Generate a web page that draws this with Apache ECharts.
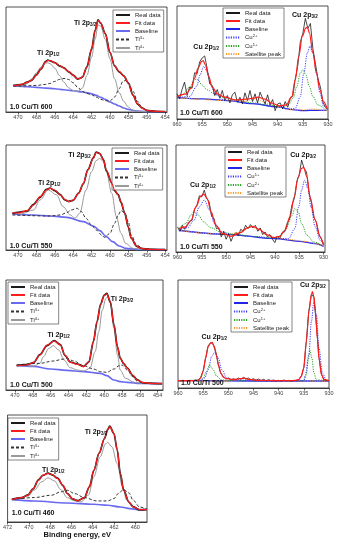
<!DOCTYPE html>
<html><head><meta charset="utf-8">
<script src="https://cdn.jsdelivr.net/npm/echarts@6.0.0/dist/echarts.min.js"></script>
<style>html,body{margin:0;padding:0;background:#fff}#c{width:338px;height:550px}</style>
</head><body><div id="c"></div>
<script>
// ===== DATA (binding energy eV, intensity in arbitrary units) =====
const tiTicks = [454, 456, 458, 460, 462, 464, 466, 468, 470];
const ti460Ticks = [460, 462, 464, 466, 468, 470, 472];
const cuTicks = [930, 935, 940, 945, 950, 955, 960];
const cuEnergy = [960,959.5,959,958.5,958,957.5,957,956.5,956,955.5,955,954.5,954,953.5,953,952.5,952,951.5,951,950.5,950,949.5,949,948.5,948,947.5,947,946.5,946,945.5,945,944.5,944,943.5,943,942.5,942,941.5,941,940.5,940,939.5,939,938.5,938,937.5,937,936.5,936,935.5,935,934.5,934,933.5,933,932.5,932,931.5,931,930.5,930];

// --- 1.0 Cu/Ti 600, Ti 2p ---
const ti600_real = [[470.5,80],[470,82],[469.5,83],[469,90],[468.5,95],[468,112],[467.5,129],[467,152],[466.75,156],[466.5,154],[466,149],[465.5,139],[465,133],[464.5,121],[464,111],[463.5,99],[463.2,102],[463,105],[462.5,136],[462,189],[461.6,247],[461.3,277],[461,267],[460.5,236],[460,179],[459.5,139],[459,121],[458.5,109],[458,87],[457.5,51],[457,24],[456.5,12],[456,5],[455,2],[454,1]];
const ti600_fit = [[470.5,79],[470,81],[469.5,84],[469,89],[468.5,96],[468,110],[467.5,130],[467,150],[466.75,155],[466.5,155],[466,148],[465.5,140],[465,132],[464.5,122],[464,110],[463.5,100],[463.2,101],[463,106],[462.5,135],[462,190],[461.6,245],[461.3,275],[461,268],[460.5,235],[460,180],[459.5,138],[459,122],[458.5,108],[458,88],[457.5,50],[457,25],[456.5,11],[456,5],[455,2],[454,1]];
const ti600_base = [[470.5,78],[470,78],[469,76],[468,74],[467,72],[466,70],[465,67],[464,64],[463,60],[462,55],[461.5,50],[461,44],[460.5,38],[460,30],[459.5,24],[459,18],[458.5,12],[458,8],[457.5,5],[457,3],[456,1],[454,0]];
const ti600_ti3 = [[470.5,78],[470,78],[469,79],[468,80],[467,83],[466.5,86],[466,92],[465.5,98],[465,101],[464.5,98],[464,88],[463.5,74],[463,62],[462.5,56],[462,52],[461.5,45],[461,38],[460.5,34],[460,33],[459.5,45],[459,70],[458.6,92],[458.3,95],[458,88],[457.5,62],[457,32],[456.5,12],[456,4],[455,1],[454,1]];
const ti600_ti4 = [[470,78],[469.5,78],[469,85],[468.5,100],[468,118],[467.5,135],[467,147],[466.75,148],[466.5,145],[466,132],[465.5,110],[465,90],[464.5,73],[464,65],[463.5,62],[463,72],[462.5,110],[462,165],[461.6,220],[461.3,262],[461,258],[460.5,218],[460,160],[459.5,100],[459,58],[458.5,32],[458,15],[457.5,5],[457,2],[456,1],[454,1]];

// --- 1.0 Cu/Ti 600, Cu 2p ---
const cu600_real = [75,60,88,110,70,95,92,138,135,170,182,188,150,105,100,70,88,62,85,55,70,48,72,80,50,65,45,78,55,85,52,75,48,80,62,45,72,42,58,25,45,48,30,52,35,62,68,120,160,230,255,300,270,285,210,165,120,95,50,35,28];
const cu600_fit = [[960,67],[958.2,75],[957.2,92],[956.5,122],[955.8,152],[955.1,172],[954.8,174],[954.4,162],[953.7,127],[953,95],[951.9,74],[950.5,65],[948.4,57],[946.3,59],[944.9,62],[943.9,65],[942.5,59],[941.1,47],[939.7,39],[938.3,42],[937.2,67],[936.5,117],[935.8,187],[935.1,247],[934.4,272],[934.1,273],[933.7,257],[933,197],[932.3,137],[931.6,87],[930.9,52],[930.2,32]];
const cu600_base = [[960,64],[955,60],[950,55],[945,46],[940,36],[937,28],[935,25],[932,26],[930.2,26]];
const cu600_cu2 = [[960,64],[957.5,67],[956.1,97],[955.4,132],[954.7,157],[954,142],[953.3,102],[952.3,72],[950.5,56],[945,46],[940,36],[937.5,30],[936.5,32],[935.5,67],[934.8,137],[934.1,197],[933.6,217],[933,197],[932.3,137],[931.6,77],[930.9,39],[930.2,27]];
const cu600_cu1 = [[960,64],[959,72],[957.5,95],[956.5,117],[956.1,119],[955.8,117],[955.1,102],[954,87],[952.6,75],[950.5,64],[948,56],[945,48],[942,42],[939,36],[937.9,42],[936.9,62],[936.2,97],[935.5,137],[935,147],[934.4,132],[933.7,97],[933,67],[932,42],[930.6,29]];
const cu600_sat = [[960,64],[950,55],[947,52],[944.5,60],[942,47],[940,37],[938,28],[935,27],[933,30],[931,26],[930.2,25]];

// --- 1.0 Cu/Ti 550, Ti 2p ---
const ti550_real = [[470.6,110],[470,113],[469,117],[468.3,137],[467.6,158],[466.9,182],[466.5,186],[466,178],[465.4,166],[464.9,150],[464.5,146],[464,149],[463.4,171],[462.9,198],[462.4,241],[461.8,277],[461.5,294],[461.1,289],[460.7,271],[460.4,238],[459.8,201],[459.5,178],[459.1,166],[458.8,143],[458.4,111],[458,68],[457.7,36],[457.1,11],[456.6,5],[455.7,2],[454,1]];
const ti550_fit = [[470.6,112],[470,111],[469,118],[468.3,135],[467.6,160],[466.9,180],[466.5,185],[466,180],[465.4,165],[464.9,152],[464.5,145],[464,150],[463.4,170],[462.9,200],[462.4,240],[461.8,275],[461.5,292],[461.1,290],[460.7,270],[460.4,240],[459.8,200],[459.5,180],[459.1,165],[458.8,145],[458.4,110],[458,70],[457.7,35],[457.1,12],[456.6,5],[455.7,2],[454,1]];
const ti550_base = [[470.6,108],[468.3,105],[466.5,102],[464.7,98],[462.9,85],[461.8,72],[461.1,58],[460.4,40],[459.7,25],[459,12],[458.3,5],[456.9,2],[454,1]];
const ti550_ti3 = [[470.6,105],[466.5,102],[465.4,105],[464.7,112],[464.2,120],[463.6,125],[463.1,115],[462.6,95],[462,75],[461.5,60],[460.9,45],[460.6,38],[460,50],[459.5,80],[459.1,105],[458.8,118],[458.4,112],[458,85],[457.7,45],[457.1,15],[456.4,4],[455,1],[454,1]];
const ti550_ti4 = [[470,108],[469.7,108],[468.3,120],[467.6,150],[466.7,180],[465.8,165],[465.1,130],[464.3,105],[463.8,95],[463.3,110],[462.6,180],[462,235],[461.5,268],[461.1,275],[460.7,265],[460.4,235],[459.8,170],[459.3,100],[458.8,50],[458.3,20],[457.5,5],[456.4,1],[454,1]];

// --- 1.0 Cu/Ti 550, Cu 2p ---
const cu550_real = [75,62,80,68,82,92,95,128,140,168,165,185,160,150,108,100,70,72,45,62,38,55,32,50,58,48,68,62,80,70,82,72,80,62,72,52,60,45,52,38,28,48,40,58,60,85,98,140,160,210,230,275,250,240,180,148,105,90,55,40,25];
const cu550_fit = [[959.7,70],[958.3,75],[957.2,95],[956.2,135],[955.2,167],[954.6,173],[953.9,160],[953.1,120],[952.1,80],[950.7,55],[949,47],[947.2,57],[945.5,73],[944.5,77],[943.1,67],[941.7,52],[940.3,43],[939,47],[937.9,65],[936.9,105],[936,165],[935.2,225],[934.5,250],[934.1,253],[933.4,225],[932.8,165],[931.7,95],[930.7,45],[930,20]];
const cu550_base = [[959.7,65],[950,53],[940,40],[935,32],[931.7,25],[930,17]];
const cu550_cu1 = [[959.7,65],[957.9,73],[956.6,95],[955.5,135],[954.5,155],[953.4,125],[952.4,85],[951,60],[949.5,53],[945,47],[940,40],[937.2,40],[935.9,70],[935.1,135],[934.5,185],[933.9,215],[933.2,190],[932.6,135],[931.7,75],[930.7,35],[930,20]];
const cu550_cu2 = [[959.7,70],[958.3,85],[957.2,110],[956.6,120],[955.7,110],[954.6,90],[953.2,73],[951.1,60],[948,52],[944,46],[940.9,43],[939.3,45],[937.9,65],[936.4,110],[935.9,130],[935.2,120],[934.5,85],[933.4,50],[932,30],[930.3,20]];
const cu550_sat = [[959.7,65],[952,54],[949.5,53],[947.5,58],[946,70],[945,75],[943.5,70],[941.5,52],[939.5,42],[937,37],[934,32],[931.5,25],[930,18]];

// --- 1.0 Cu/Ti 500, Ti 2p ---
const ti500_real = [[469.8,74],[468.7,76],[467.9,82],[467.2,106],[466.4,133],[465.6,148],[464.9,136],[464.4,104],[463.8,84],[463,78],[462.3,71],[461.7,84],[461.2,146],[460.8,204],[460.4,257],[460,284],[459.7,290],[459.3,264],[458.9,196],[458.5,129],[458.2,96],[457.8,79],[457.4,66],[456.8,44],[456.3,31],[455.7,22],[454.8,20],[453.5,19]];
const ti500_fit = [[469.8,73],[468.7,75],[467.9,83],[467.2,105],[466.4,135],[465.6,147],[464.9,135],[464.4,105],[463.8,83],[463,77],[462.3,70],[461.7,85],[461.2,145],[460.8,205],[460.4,255],[460,283],[459.7,288],[459.3,265],[458.9,195],[458.5,130],[458.2,95],[457.8,80],[457.4,65],[456.8,45],[456.3,30],[455.7,23],[454.8,20],[453.5,19]];
const ti500_base = [[469.8,73],[467.9,71],[466,63],[464.2,59],[462.3,55],[460.4,50],[459.7,43],[458.9,30],[458.2,25],[457.4,23],[455.9,20],[453.5,19]];
const ti500_ti3 = [[469.8,75],[467.2,80],[465.7,87],[464.5,93],[464.2,95],[463.4,87],[462.3,73],[461.2,63],[460.4,55],[459.7,53],[458.9,63],[458.3,73],[458,75],[457.4,60],[456.8,40],[456.3,27],[455.5,21],[453.5,19]];
const ti500_ti4 = [[469.8,73],[467.9,72],[467.2,80],[466.8,100],[466.2,125],[465.7,133],[465.1,120],[464.5,90],[463.8,67],[463,60],[462.3,57],[461.6,65],[461,115],[460.6,175],[460.2,240],[459.8,275],[459.6,280],[459.3,260],[458.9,185],[458.5,105],[458.2,60],[457.6,35],[456.6,23],[455.5,20],[453.5,19]];

// --- 1.0 Cu/Ti 500, Cu 2p ---
const cu500_real = [22,21,23,22,21,23,22,24,23,32,52,92,127,137,131,108,72,44,34,27,30,24,28,25,30,27,32,27,30,25,28,23,27,22,26,21,25,22,24,21,23,21,24,22,23,21,23,22,26,36,62,142,232,282,273,188,92,42,26,23,22];
const cu500_fit = [[960,22],[958,22],[956,23],[955.5,30],[955,50],[954.5,90],[954,125],[953.5,135],[953.2,137],[952.8,125],[952.3,95],[952,70],[951.5,45],[951,33],[950.3,28],[949,25],[947.5,28],[946.8,30],[946,26],[944,23],[940,22],[937,22],[936,25],[935.5,35],[935,60],[934.5,140],[934,230],[933.5,280],[933.3,290],[933,275],[932.7,230],[932.3,150],[932,90],[931.5,40],[931,25],[930,22]];
const cu500_base = [[960,22],[945,21],[930,21]];
const cu500_cu2 = [[960,22],[955.5,23],[954.7,30],[954,55],[953.3,95],[952.7,108],[952,90],[951.3,55],[950.3,30],[949,24],[935,22],[934.7,40],[934,100],[933.5,200],[933,260],[932.5,220],[932,120],[931.3,45],[930.5,22],[930,22]];
const cu500_cu1 = [[960,22],[955.5,23],[955,30],[954.3,50],[953.8,70],[953.1,57],[952.3,35],[951.3,24],[950,22],[935,22],[934.5,40],[934.1,85],[933.8,115],[933.4,90],[933,45],[932.5,24],[930,22]];
const cu500_sat = [[960,21],[950,21],[948,25],[947,29],[946,26],[944,23],[935,21],[930,21]];

// --- 1.0 Cu/Ti 460, Ti 2p ---
const ti460_real = [[471.6,68],[470.7,72],[470.1,81],[469.6,99],[469.1,126],[468.7,139],[468.2,146],[467.8,141],[467.3,131],[466.8,109],[466.4,86],[465.9,69],[465.4,64],[464.8,72],[464.3,106],[463.9,154],[463.4,206],[462.9,249],[462.6,276],[462.4,287],[462,264],[461.7,216],[461.4,144],[461.1,96],[460.6,59],[460.2,46],[459.6,36],[458.9,38]];
const ti460_fit = [[471.6,67],[470.7,73],[470.1,80],[469.6,100],[469.1,125],[468.7,140],[468.2,145],[467.8,142],[467.3,130],[466.8,110],[466.4,85],[465.9,70],[465.4,63],[464.8,73],[464.3,105],[463.9,155],[463.4,205],[462.9,250],[462.6,275],[462.4,285],[462,265],[461.7,215],[461.4,145],[461.1,95],[460.6,60],[460.2,45],[459.6,37],[458.9,37]];
const ti460_base = [[471.6,67],[469.5,63],[466.4,57],[463.9,53],[462.6,50],[461.4,45],[460.5,40],[459.6,37],[458.9,37]];
const ti460_ti3 = [[471.6,67],[469.5,73],[467.9,80],[467,90],[466.4,95],[465.7,85],[464.8,73],[463.6,63],[462.6,63],[462,70],[461.6,85],[461.1,97],[460.6,87],[460.2,65],[459.6,45],[458.9,37]];
const ti460_ti4 = [[471.6,67],[470.1,77],[469.5,95],[468.8,120],[468.2,132],[467.6,123],[467,97],[466.4,73],[465.7,63],[465.1,60],[464.4,80],[463.9,135],[463.3,195],[462.8,233],[462.6,238],[462.2,225],[461.7,175],[461.2,105],[460.8,65],[460.2,45],[459.6,38],[458.9,37]];

// ===== STYLES =====
const FONT = 'Liberation Sans';
const ST = {
  real_ti: {color:'#1a1a1a', width:1.7, smooth:0.3, z:3},
  real_cu: {color:'#1a1a1a', width:0.8, smooth:false, z:3},
  fit:     {color:'#ff1e1e', width:1.2, smooth:0.35, z:4},
  base_ti: {color:'#6a6af0', width:1.6, smooth:0.35, z:2},
  base_cu: {color:'#2424e6', width:1.3, smooth:0.35, z:2},
  ti3:     {color:'#333333', width:1.0, smooth:0.35, type:[3,2], z:2},
  ti4:     {color:'#9a9a9a', width:1.0, smooth:0.35, z:2},
  cublue:  {color:'#4040ff', width:1.0, smooth:0.35, type:[1.2,1.2], z:2},
  cugreen: {color:'#2aa52a', width:1.0, smooth:0.35, type:[1.2,1.2], z:2},
  sat:     {color:'#ff9a2e', width:1.0, smooth:0.35, type:[1.2,1.2], z:2}
};

function pairs(xs, ys){ return ys.map((v,i)=>[xs[i], v]); }

const panels = [
  {grid:{left:6, top:7, width:161, height:105}, x:[453.8,471.3], ticks:tiTicks, yMax:316,
   legend:{left:113, top:10},
   lines:[['Baseline',ti600_base,'base_ti'],['Ti4+',ti600_ti4,'ti4'],['Ti3+',ti600_ti3,'ti3'],['Real data',ti600_real,'real_ti'],['Fit data',ti600_fit,'fit']],
   order:['Real data','Fit data','Baseline','Ti3+','Ti4+'],
   ann:[[462.7,268,'Ti 2p','3/2'],[466.7,178,'Ti 2p','1/2'],[470.9,15,'1.0 Cu/Ti 600',null,'left']]},
  {grid:{left:177, top:6, width:151, height:113}, x:[930,960], ticks:cuTicks, yMax:337,
   legend:{left:223, top:8},
   lines:[['Baseline',cu600_base,'base_cu'],['Satellite peak',cu600_sat,'sat'],['Cu1+',cu600_cu1,'cugreen'],['Cu2+',cu600_cu2,'cublue'],['Real data',pairs(cuEnergy,cu600_real),'real_cu'],['Fit data',cu600_fit,'fit']],
   order:['Real data','Fit data','Baseline','Cu2+','Cu1+','Satellite peak'],
   ann:[[934.6,310,'Cu 2p','3/2'],[954.2,215,'Cu 2p','1/2'],[959.4,18,'1.0 Cu/Ti 600',null,'left']]},
  {grid:{left:6, top:145, width:161, height:105}, x:[453.8,471.3], ticks:tiTicks, yMax:315,
   legend:{left:112, top:148},
   lines:[['Baseline',ti550_base,'base_ti'],['Ti4+',ti550_ti4,'ti4'],['Ti3+',ti550_ti3,'ti3'],['Real data',ti550_real,'real_ti'],['Fit data',ti550_fit,'fit']],
   order:['Real data','Fit data','Baseline','Ti3+','Ti4+'],
   ann:[[463.3,285,'Ti 2p','3/2'],[466.6,201,'Ti 2p','1/2'],[470.9,12,'1.0 Cu/Ti 550',null,'left']]},
  {grid:{left:176, top:145, width:149, height:107}, x:[929.7,960.3], ticks:cuTicks, yMax:320,
   legend:{left:225, top:147},
   lines:[['Baseline',cu550_base,'base_cu'],['Satellite peak',cu550_sat,'sat'],['Cu2+',cu550_cu2,'cugreen'],['Cu1+',cu550_cu1,'cublue'],['Real data',pairs(cuEnergy,cu550_real),'real_cu'],['Fit data',cu550_fit,'fit']],
   order:['Real data','Fit data','Baseline','Cu1+','Cu2+','Satellite peak'],
   ann:[[934.2,290,'Cu 2p','3/2'],[954.8,200,'Cu 2p','1/2'],[959.5,15,'1.0 Cu/Ti 550',null,'left']]},
  {grid:{left:6, top:280, width:157, height:110}, x:[453.4,471], ticks:tiTicks, yMax:330,
   legend:{left:8, top:282},
   lines:[['Baseline',ti500_base,'base_ti'],['Ti4+',ti500_ti4,'ti4'],['Ti3+',ti500_ti3,'ti3'],['Real data',ti500_real,'real_ti'],['Fit data',ti500_fit,'fit']],
   order:['Real data','Fit data','Baseline','Ti3+','Ti4+'],
   ann:[[458.0,273,'Ti 2p','3/2'],[465.1,165,'Ti 2p','1/2'],[470.55,15,'1.0 Cu/Ti 500',null,'left']]},
  {grid:{left:178, top:280, width:151, height:108}, x:[930,960], ticks:cuTicks, yMax:325,
   legend:{left:231, top:282},
   lines:[['Baseline',cu500_base,'base_cu'],['Satellite peak',cu500_sat,'sat'],['Cu1+',cu500_cu1,'cugreen'],['Cu2+',cu500_cu2,'cublue'],['Real data',pairs(cuEnergy,cu500_real),'real_cu'],['Fit data',cu500_fit,'fit']],
   order:['Real data','Fit data','Baseline','Cu2+','Cu1+','Satellite peak'],
   ann:[[933.2,310,'Cu 2p','3/2'],[952.8,154,'Cu 2p','1/2'],[959.4,14,'1.0 Cu/Ti 500',null,'left']]},
  {grid:{left:6, top:415, width:141, height:107}, x:[458.9,472], ticks:ti460Ticks, yMax:320,
   legend:{left:8, top:418}, xName:'Binding energy, eV',
   lines:[['Baseline',ti460_base,'base_ti'],['Ti4+',ti460_ti4,'ti4'],['Ti3+',ti460_ti3,'ti3'],['Real data',ti460_real,'real_ti'],['Fit data',ti460_fit,'fit']],
   order:['Real data','Fit data','Baseline','Ti3+','Ti4+'],
   ann:[[463.7,269,'Ti 2p','3/2'],[467.7,155,'Ti 2p','1/2'],[471.6,27,'1.0 Cu/Ti 460',null,'left']]}
];

function legendRich(name){
  const n = name.split('@')[0];
  const m = n.match(/^(Ti|Cu)(\d\+)$/);
  if (m) return '{t|' + m[1] + '}{s|' + m[2] + '}';
  return '{t|' + n + '}';
}

const grids = [], xAxes = [], yAxes = [], series = [], legends = [];
panels.forEach((p, gi) => {
  grids.push(Object.assign({show:true, borderColor:'#222', borderWidth:0.8, backgroundColor:'transparent'}, p.grid));
  xAxes.push({
    type:'value', gridIndex:gi, min:p.x[0], max:p.x[1], inverse:true,
    axisLine:{show:true, onZero:false, lineStyle:{color:'#222', width:0.8}},
    axisTick:{show:true, inside:false, length:2.5, customValues:p.ticks, lineStyle:{color:'#222', width:0.7}},
    axisLabel:{show:true, customValues:p.ticks, fontSize:5.5, margin:2.5, color:'#444', fontFamily:FONT},
    splitLine:{show:false},
    name: p.xName || '', nameLocation:'middle', nameGap:9,
    nameTextStyle:{fontSize:7.5, fontWeight:'bold', fontFamily:FONT, color:'#111'}
  });
  yAxes.push({type:'value', gridIndex:gi, min:0, max:p.yMax, show:false});
  p.lines.forEach(([label, data, sk]) => {
    const st = ST[sk];
    const nm = label + '@' + gi;
    const s = {
      type:'line', name:nm, data:data, xAxisIndex:gi, yAxisIndex:gi,
      symbol:'none', showSymbol:false, smooth:st.smooth, smoothMonotone:'x',
      lineStyle:{color:st.color, width:st.width, type:st.type || 'solid'},
      itemStyle:{color:st.color}, z:st.z, animation:false, silent:true,
      emphasis:{disabled:true}
    };
    if (label === 'Fit data') {
      s.markPoint = {
        symbol:'circle', symbolSize:1, silent:true, animation:false,
        itemStyle:{color:'rgba(0,0,0,0)'},
        data: p.ann.map(a => ({
          coord:[a[0], a[1]],
          label:{show:true, position:'inside', align:a[4] || 'center', verticalAlign:'middle',
            formatter: () => a[3] ? ('{bb|' + a[2] + '}{ss|' + a[3] + '}') : ('{bb|' + a[2] + '}'),
            rich:{
              bb:{fontSize:7, fontWeight:'bold', fontFamily:FONT, color:'#111', lineHeight:9},
              ss:{fontSize:4.5, fontWeight:'bold', fontFamily:FONT, color:'#111', lineHeight:5, verticalAlign:'bottom'}
            }}
        }))
      };
    }
    series.push(s);
  });
  legends.push({
    show:true, orient:'vertical', left:p.legend.left, top:p.legend.top,
    data: p.order.map(l => l + '@' + gi),
    itemWidth:14, itemHeight:6, itemGap:2, padding:[2,3,1,2],
    borderColor:'#333', borderWidth:0.6, backgroundColor:'#fff',
    selectedMode:false,
    itemStyle:{color:'rgba(0,0,0,0)', borderColor:'rgba(0,0,0,0)', borderWidth:0, opacity:0},
    formatter: legendRich,
    textStyle:{fontSize:6, fontFamily:FONT, color:'#222',
      rich:{ t:{fontSize:6, fontFamily:FONT, color:'#222', lineHeight:7},
             s:{fontSize:4, fontFamily:FONT, color:'#222', lineHeight:4, verticalAlign:'top'} }}
  });
});

const chart = echarts.init(document.getElementById('c'), null, {renderer:'canvas'});
chart.setOption({
  animation:false,
  backgroundColor:'#fff',
  grid:grids, xAxis:xAxes, yAxis:yAxes, series:series, legend:legends
});
</script></body></html>
